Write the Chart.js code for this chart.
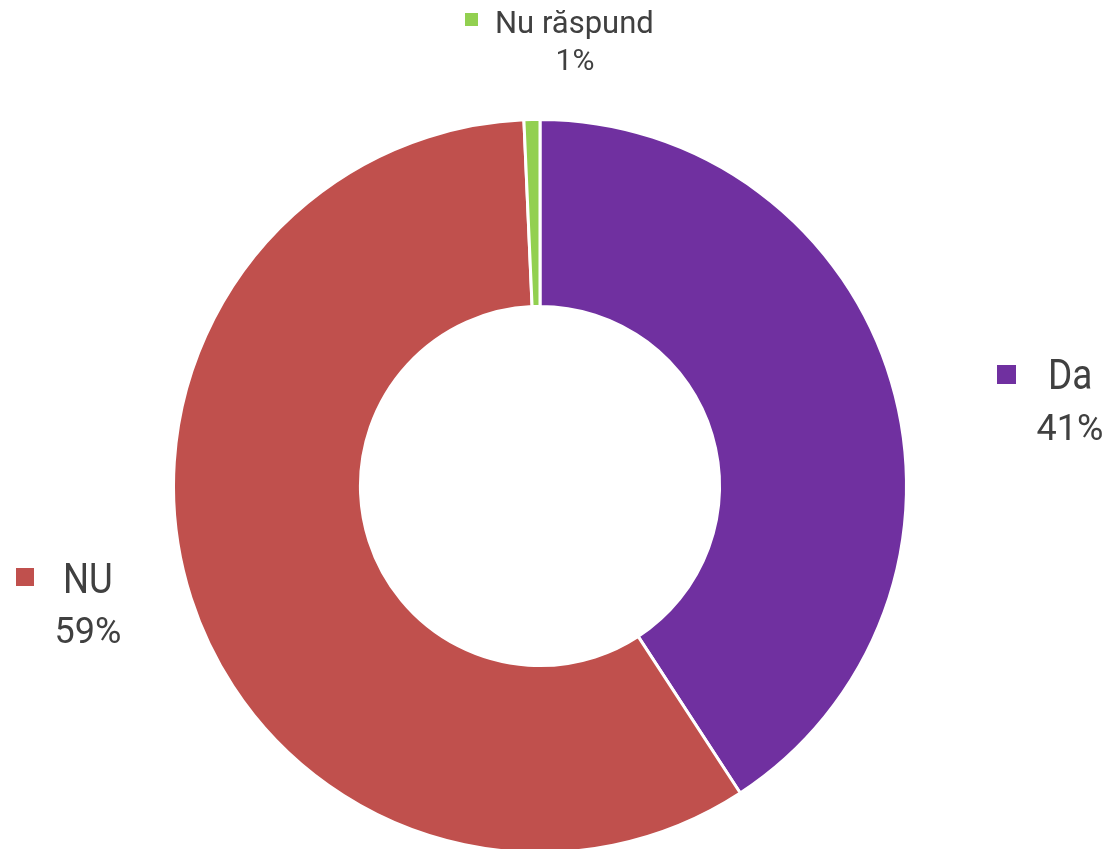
<!DOCTYPE html>
<html>
<head>
<meta charset="utf-8">
<script src="https://cdn.jsdelivr.net/npm/chart.js@4.4.0/dist/chart.umd.min.js"></script>
<style>
html,body{margin:0;padding:0;background:#fff;overflow:hidden;}
#wrap{width:1111px;height:854px;position:relative;}
</style>
</head>
<body>
<div id="wrap"><canvas id="c"></canvas></div>
<script>
const categories = ["Da", "NU", "Nu răspund"];
const values = [40.8, 58.5, 0.7];
const colors = ["#7030A0", "#C0504D", "#92D050"];

// label layout (text placement only), relative to chart center
const labelLayout = [
  {sq:[457,-121,19], nameX:508, nameY:-97, nameFont:"42px Roboto, sans-serif", nameScale:0.88, pctX:530, pctY:-46, pctFont:"36px Roboto, sans-serif"},
  {sq:[-524,82,18], nameX:-477, nameY:107, nameFont:"42px Roboto, sans-serif", nameScale:0.87, pctX:-452, pctY:157, pctFont:"36px Roboto, sans-serif"},
  {sq:[-75,-473,13], nameX:-45, nameY:-453, nameFont:"31px Roboto, sans-serif", nameScale:1, pctX:35, pctY:-416, pctFont:"30px Roboto, sans-serif"}
];

const labelPlugin = {
  id: 'outLabels',
  afterDatasetsDraw(chart) {
    const ctx = chart.ctx;
    const meta = chart.getDatasetMeta(0);
    const arc = meta.data[0];
    const cx = arc.x, cy = arc.y;
    const ds = chart.data.datasets[0].data;
    const total = ds.reduce((a,b)=>a+b,0);
    ctx.save();
    ctx.textBaseline = 'alphabetic';
    chart.data.labels.forEach((lab, i) => {
      const L = labelLayout[i];
      ctx.fillStyle = colors[i];
      ctx.fillRect(cx + L.sq[0], cy + L.sq[1], L.sq[2], L.sq[2]);
      ctx.fillStyle = '#404040';
      ctx.font = L.nameFont;
      ctx.textAlign = 'left';
      ctx.save();
      ctx.translate(cx + L.nameX, cy + L.nameY);
      ctx.scale(L.nameScale, 1);
      ctx.fillText(lab, 0, 0);
      ctx.restore();
      ctx.font = L.pctFont;
      ctx.textAlign = 'center';
      ctx.fillText(Math.round(ds[i] / total * 100) + '%', cx + L.pctX, cy + L.pctY);
    });
    ctx.restore();
  }
};

new Chart(document.getElementById('c'), {
  type: 'doughnut',
  data: {
    labels: categories,
    datasets: [{
      data: values,
      backgroundColor: colors,
      borderColor: '#ffffff',
      borderWidth: 3
    }]
  },
  options: {
    responsive: true,
    maintainAspectRatio: false,
    animation: false,
    cutout: '49%',
    layout: {padding: {top: 118, bottom: 0, left: 172, right: 203}},
    plugins: {legend: {display: false}, tooltip: {enabled: false}}
  },
  plugins: [labelPlugin]
});
</script>
</body>
</html>
